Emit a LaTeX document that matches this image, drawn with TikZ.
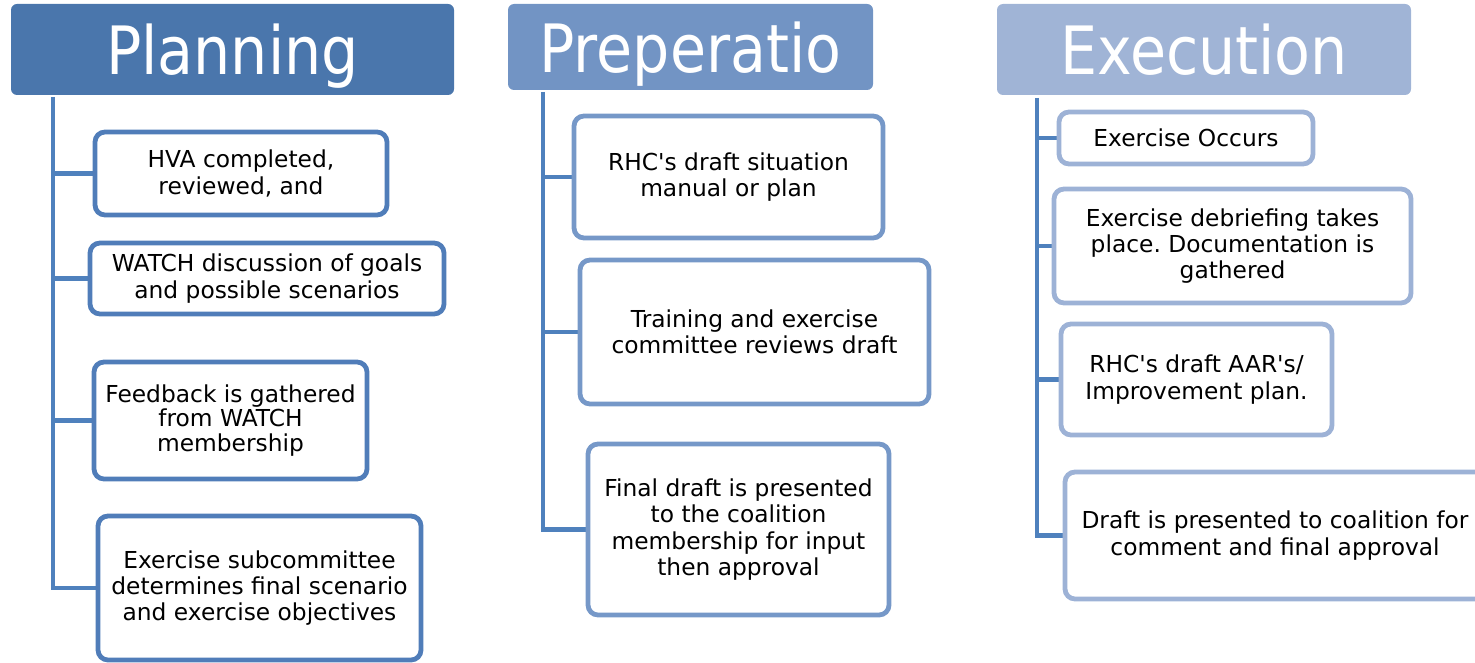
\documentclass[tikz,border=0pt]{standalone}
\usepackage{fontspec}
\usetikzlibrary{backgrounds}
\setmainfont{DejaVu Sans}
\newfontfamily\hdrfont[FakeStretch=0.88]{DejaVu Sans}
\definecolor{planfill}{RGB}{74,118,172}
\definecolor{prepfill}{RGB}{114,148,196}
\definecolor{execfill}{RGB}{160,180,214}
\definecolor{planline}{RGB}{80,125,185}
\definecolor{prepline}{RGB}{118,152,200}
\definecolor{execline}{RGB}{157,178,214}
\definecolor{trunkc}{RGB}{79,129,189}
\frenchspacing
\begin{document}
\begin{tikzpicture}[x=0.75pt,y=-0.75pt,
  hdr/.style={rectangle, rounded corners=4.5pt, inner sep=0pt, text=white,
    font=\hdrfont\fontsize{50}{56}\selectfont, text height=40pt, text depth=2pt},
  box/.style={rectangle, rounded corners=7.5pt, draw, line width=3.6pt, fill=white,
    inner sep=0pt, align=center, font=\fontsize{17.5}{19.8}\selectfont},
  trunk/.style={draw=trunkc, line width=3.6pt, line join=miter}]
\useasboundingbox (0,0) rectangle (1475,663);

% headers
\node[hdr, fill=planfill, minimum width=332.25pt, minimum height=68.25pt] (hp) at (232.5,49.5) {Planning};
\node[hdr, fill=prepfill, minimum width=273.75pt, minimum height=64.5pt] (hq) at (690.5,47) {Preperatio};
\node[hdr, fill=execfill, minimum width=310.5pt, minimum height=68.25pt] (he) at (1204,49.5) {Execution};

% trunk tops
\coordinate (tp) at (53,97);
\coordinate (tq) at (543,92);
\coordinate (te) at (1037,98);

% planning boxes
\node[box, draw=planline, minimum width=219pt, minimum height=62.25pt] (p1) at (241,173.5) {HVA completed,\\reviewed, and};
\node[box, draw=planline, minimum width=265.5pt, minimum height=53.25pt] (p2) at (267,278.5) {WATCH discussion of goals\\and possible scenarios};
\node[box, draw=planline, minimum width=204.75pt, minimum height=87.75pt, font=\fontsize{17.5}{18.5}\selectfont] (p3) at (230.5,420.5) {Feedback is gathered\\from WATCH\\membership};
\node[box, draw=planline, minimum width=242.25pt, minimum height=108pt] (p4) at (259.5,588) {Exercise subcommittee\\determines final scenario\\and exercise objectives};

% preparation boxes
\node[box, draw=prepline, minimum width=231.75pt, minimum height=91.5pt] (q1) at (728.5,177) {RHC\textquotesingle s draft situation\\manual or plan};
\node[box, draw=prepline, minimum width=261.75pt, minimum height=108pt] (q2) at (754.5,332) {Training and exercise\\committee reviews draft};
\node[box, draw=prepline, minimum width=225.75pt, minimum height=128.25pt] (q3) at (738.5,529.5) {Final draft is presented\\to the coalition\\membership for input\\then approval};

% execution boxes
\node[box, draw=execline, minimum width=190.5pt, minimum height=39pt] (e1) at (1186,138) {Exercise Occurs};
\node[box, draw=execline, minimum width=267.75pt, minimum height=85.5pt] (e2) at (1232.5,246) {Exercise debriefing takes\\place. Documentation is\\gathered};
\node[box, draw=execline, minimum width=203.25pt, minimum height=83.25pt] (e3) at (1196.5,379.5) {RHC\textquotesingle s draft AAR\textquotesingle s/\\Improvement plan.};
\node[box, draw=execline, minimum width=315pt, minimum height=95.25pt] (e4) at (1275,535.5) {Draft is presented to coalition for\\comment and final approval};

% connectors, behind the boxes
\begin{scope}[on background layer]
\draw[trunk] (tp) |- (p4.west);
\draw[trunk] (tp |- p1.west) -- (p1.west);
\draw[trunk] (tp |- p2.west) -- (p2.west);
\draw[trunk] (tp |- p3.west) -- (p3.west);
\draw[trunk] (tq) |- (q3.west);
\draw[trunk] (tq |- q1.west) -- (q1.west);
\draw[trunk] (tq |- q2.west) -- (q2.west);
\draw[trunk] (te) |- (e4.west);
\draw[trunk] (te |- e1.west) -- (e1.west);
\draw[trunk] (te |- e2.west) -- (e2.west);
\draw[trunk] (te |- e3.west) -- (e3.west);
\end{scope}
\end{tikzpicture}
\end{document}
